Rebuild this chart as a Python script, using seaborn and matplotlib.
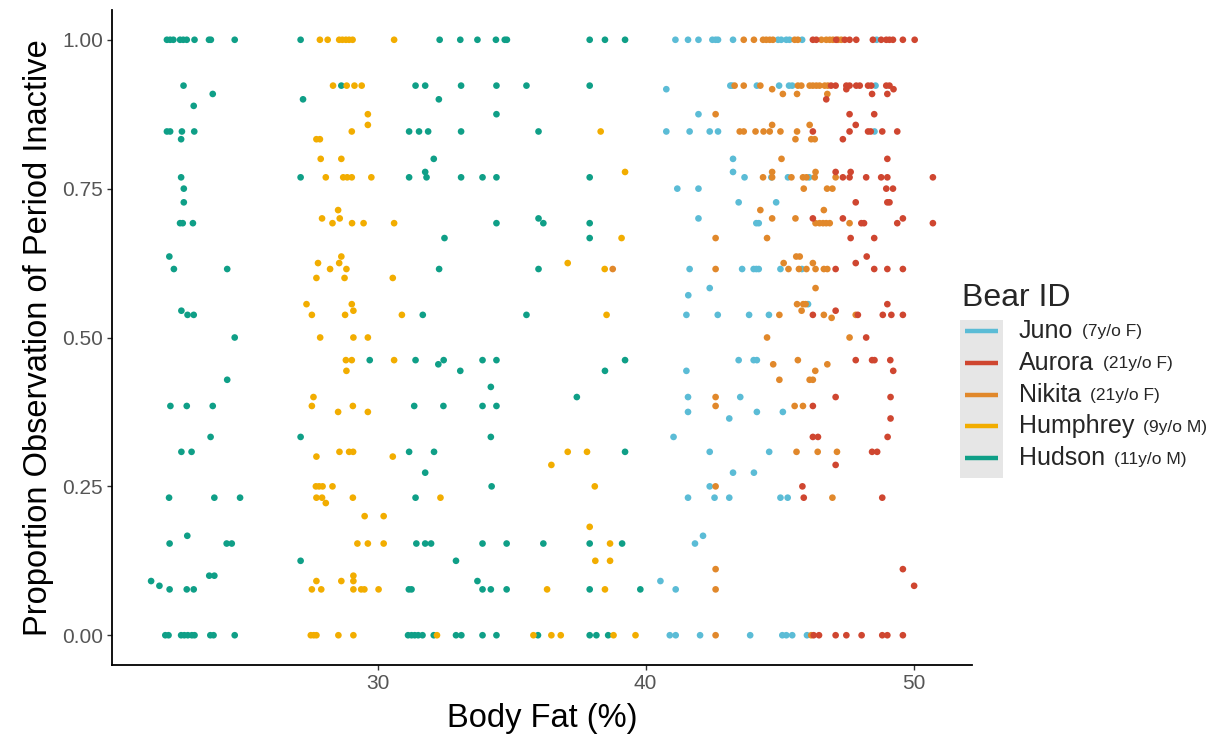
import matplotlib
matplotlib.use("Agg")
import matplotlib.pyplot as plt
from matplotlib.patches import Rectangle
from matplotlib.lines import Line2D
import pandas as pd
import seaborn as sns

# Bears, their notes and colours (legend order)
bears = ["Juno", "Aurora", "Nikita", "Humphrey", "Hudson"]
bear_notes = ["(7y/o F)", "(21y/o F)", "(21y/o F)", "(9y/o M)", "(11y/o M)"]
bear_colors = ["#5BBCD6", "#CF4630", "#E1882B", "#F2AD00", "#0F9F87"]

# Observations: (body fat %, proportion of observation period inactive)
hudson_obs = [
    (22.13, 1), (22.25, 1), (22.37, 1), (22.62, 1), (22.74, 1), (22.87, 1), (23.16, 1),
    (23.70, 1), (23.77, 1), (24.66, 1), (22.75, 0.923), (23.84, 0.909), (23.13, 0.889),
    (22.13, 0.846), (22.25, 0.846), (22.69, 0.846), (23.15, 0.846), (22.66, 0.833),
    (22.66, 0.769), (22.76, 0.75), (22.76, 0.727), (22.62, 0.692), (22.72, 0.692),
    (23.10, 0.692), (22.22, 0.636), (22.39, 0.615), (24.38, 0.615), (22.67, 0.545),
    (22.90, 0.538), (23.13, 0.538), (24.66, 0.5), (24.38, 0.429), (22.26, 0.385),
    (22.87, 0.385), (23.84, 0.385), (23.76, 0.333), (22.67, 0.308), (23.05, 0.308),
    (22.21, 0.231), (23.90, 0.231), (24.86, 0.231), (22.89, 0.167), (22.23, 0.154),
    (24.36, 0.154), (24.55, 0.154), (23.71, 0.1), (23.90, 0.1), (21.54, 0.091),
    (21.85, 0.083), (22.23, 0.077), (22.87, 0.077), (23.13, 0.077), (22.07, 0),
    (22.19, 0), (22.66, 0), (22.78, 0), (22.91, 0), (23.06, 0), (23.16, 0), (23.75, 0),
    (23.87, 0), (24.66, 0),
    (27.12, 1), (32.31, 1), (28.64, 0.923), (31.41, 0.923), (31.77, 0.923), (27.21, 0.9),
    (32.28, 0.9), (31.17, 0.846), (31.54, 0.846), (31.88, 0.846), (32.09, 0.8),
    (31.77, 0.778), (27.12, 0.769), (31.17, 0.769), (31.82, 0.769), (32.49, 0.667),
    (32.29, 0.615), (31.68, 0.538), (29.70, 0.462), (31.41, 0.462), (32.46, 0.462),
    (32.26, 0.455), (33.08, 0.444), (31.36, 0.385), (32.45, 0.385), (27.12, 0.333),
    (31.17, 0.308), (32.10, 0.308), (31.77, 0.273), (31.41, 0.231), (31.44, 0.154),
    (31.77, 0.154), (31.99, 0.154), (27.12, 0.125), (32.92, 0.125), (31.16, 0.077),
    (31.26, 0.077), (31.13, 0), (31.26, 0), (31.38, 0), (31.51, 0), (31.67, 0),
    (32.09, 0), (32.92, 0),
    (33.08, 1), (33.72, 1), (34.41, 1), (34.74, 1), (34.82, 1), (37.91, 1), (38.48, 1),
    (39.23, 1), (33.11, 0.923), (34.43, 0.923), (35.55, 0.923), (37.91, 0.923),
    (34.43, 0.875), (33.11, 0.846), (36.00, 0.846), (33.11, 0.769), (33.91, 0.769),
    (34.43, 0.769), (37.91, 0.769), (34.43, 0.692), (36.18, 0.692), (37.91, 0.692),
    (36.00, 0.7), (37.91, 0.667), (36.00, 0.615), (35.55, 0.538), (33.91, 0.462),
    (34.43, 0.462), (39.23, 0.462), (38.48, 0.444), (34.22, 0.417), (37.43, 0.4),
    (33.91, 0.385), (34.43, 0.385), (34.22, 0.333), (39.23, 0.308), (34.25, 0.25),
    (33.91, 0.154), (34.81, 0.154), (36.18, 0.154), (37.91, 0.154), (39.12, 0.154),
    (33.72, 0.091), (33.91, 0.077), (34.22, 0.077), (34.81, 0.077), (37.91, 0.077),
    (39.80, 0.077), (33.12, 0), (33.91, 0), (34.43, 0), (35.98, 0), (37.91, 0),
    (38.16, 0), (38.60, 0),
]

humphrey_obs = [
    (27.84, 1), (28.13, 1), (28.56, 1), (28.68, 1), (28.81, 1), (28.93, 1), (29.06, 1),
    (30.61, 1), (28.33, 0.923), (28.84, 0.923), (29.13, 0.923), (29.40, 0.923),
    (29.63, 0.875), (29.63, 0.857), (29.03, 0.846), (27.71, 0.833), (27.84, 0.833),
    (27.87, 0.8), (28.64, 0.8), (28.06, 0.769), (28.71, 0.769), (28.86, 0.769),
    (29.03, 0.769), (29.76, 0.769), (28.52, 0.714), (27.92, 0.7), (28.58, 0.7),
    (28.31, 0.692), (29.04, 0.692), (29.47, 0.692), (30.61, 0.692), (28.64, 0.636),
    (27.77, 0.625), (28.56, 0.625), (28.22, 0.615), (28.83, 0.615), (27.71, 0.6),
    (28.76, 0.6), (30.56, 0.6), (27.34, 0.556), (29.03, 0.556), (29.09, 0.545),
    (27.54, 0.538), (28.78, 0.538), (30.90, 0.538), (27.85, 0.5), (29.09, 0.5),
    (29.63, 0.5), (28.81, 0.462), (29.03, 0.462), (30.61, 0.462), (28.83, 0.444),
    (27.60, 0.4), (27.54, 0.385), (29.07, 0.385), (28.52, 0.375), (29.63, 0.375),
    (28.57, 0.308), (28.93, 0.308), (29.08, 0.308), (27.71, 0.3), (30.56, 0.3),
    (27.69, 0.25), (27.81, 0.25), (27.94, 0.25), (28.31, 0.25), (27.71, 0.231),
    (27.92, 0.231), (29.07, 0.231), (32.34, 0.231), (28.06, 0.222), (29.51, 0.2),
    (30.22, 0.2), (29.24, 0.154), (29.63, 0.154), (30.22, 0.154), (29.09, 0.1),
    (27.71, 0.091), (28.64, 0.091), (29.09, 0.091), (27.54, 0.077), (27.89, 0.077),
    (29.09, 0.077), (29.38, 0.077), (29.50, 0.077), (30.03, 0.077), (27.50, 0),
    (27.61, 0), (27.71, 0), (28.53, 0), (29.09, 0), (32.21, 0),
    (38.32, 0.846), (39.23, 0.778), (39.10, 0.667), (37.09, 0.625), (38.47, 0.615),
    (38.54, 0.538), (37.09, 0.308), (37.81, 0.308), (36.48, 0.286), (38.10, 0.25),
    (37.91, 0.182), (38.67, 0.154), (38.12, 0.125), (38.67, 0.125), (36.32, 0.077),
    (38.48, 0.077), (35.81, 0), (36.48, 0), (36.83, 0), (38.80, 0), (39.62, 0),
]

juno_obs = [
    (41.11, 1), (41.58, 1), (41.97, 1), (42.49, 1), (42.61, 1), (42.70, 1), (43.26, 1),
    (44.94, 1), (45.06, 1), (45.25, 1), (45.37, 1), (45.84, 1), (48.62, 1),
    (40.77, 0.917), (43.16, 0.923), (43.23, 0.923), (44.15, 0.923), (44.98, 0.923),
    (45.35, 0.923), (45.47, 0.923), (48.58, 0.923), (41.97, 0.875), (40.77, 0.846),
    (41.64, 0.846), (42.39, 0.846), (42.70, 0.846), (48.54, 0.846), (43.26, 0.8),
    (43.26, 0.778), (43.69, 0.769), (44.69, 0.769), (45.31, 0.769), (46.10, 0.769),
    (41.18, 0.75), (41.97, 0.75), (43.47, 0.727), (44.87, 0.727), (41.97, 0.7),
    (44.13, 0.692), (44.22, 0.692), (41.64, 0.615), (43.60, 0.615), (44.03, 0.615),
    (44.13, 0.615), (44.22, 0.615), (45.03, 0.615), (45.83, 0.615), (42.39, 0.583),
    (41.59, 0.571), (46.06, 0.556), (41.52, 0.538), (42.69, 0.538), (43.86, 0.538),
    (44.60, 0.538), (43.47, 0.462), (44.03, 0.462), (44.15, 0.462), (41.52, 0.444),
    (41.58, 0.4), (43.53, 0.4), (41.58, 0.375), (44.15, 0.375), (45.12, 0.375),
    (43.12, 0.364), (41.04, 0.333), (42.39, 0.308), (44.61, 0.308), (43.26, 0.273),
    (44.04, 0.273), (42.39, 0.25), (41.58, 0.231), (42.57, 0.231), (43.12, 0.231),
    (45.03, 0.231), (45.30, 0.231), (42.14, 0.167), (41.84, 0.154), (40.55, 0.091),
    (41.12, 0.077), (40.90, 0), (41.12, 0), (42.03, 0), (43.90, 0), (45.10, 0),
    (45.25, 0), (45.47, 0), (46.02, 0),
]

nikita_obs = [
    (38.77, 0.615), (43.66, 1), (44.04, 1), (44.38, 1), (44.50, 1), (44.63, 1),
    (44.75, 1), (45.56, 1), (45.68, 1), (43.32, 0.923), (43.66, 0.923), (44.28, 0.923),
    (45.68, 0.923), (45.81, 0.923), (44.72, 0.917), (45.12, 0.909), (45.65, 0.909),
    (42.61, 0.875), (44.72, 0.857), (43.51, 0.846), (43.66, 0.846), (44.10, 0.846),
    (44.40, 0.846), (44.63, 0.846), (45.03, 0.846), (45.65, 0.846), (45.59, 0.833),
    (45.07, 0.8), (44.72, 0.778), (44.38, 0.769), (44.72, 0.769), (45.44, 0.769),
    (45.87, 0.769), (45.90, 0.75), (44.28, 0.714), (44.72, 0.7), (45.59, 0.7),
    (42.61, 0.667), (44.53, 0.667), (45.62, 0.636), (45.75, 0.636), (45.15, 0.625),
    (42.61, 0.615), (45.33, 0.615), (45.72, 0.615), (45.65, 0.556), (45.88, 0.556),
    (45.97, 0.556), (45.82, 0.545), (44.99, 0.538), (44.53, 0.5), (45.68, 0.462),
    (44.76, 0.455), (44.99, 0.429), (42.61, 0.4), (42.61, 0.385), (45.56, 0.385),
    (45.87, 0.385), (45.63, 0.308), (42.61, 0.25), (42.61, 0.111), (42.61, 0.077),
    (42.61, 0),
    (46.56, 1), (46.74, 1), (46.87, 1), (46.99, 1), (47.18, 1), (47.30, 1),
    (46.12, 0.923), (46.24, 0.923), (46.37, 0.923), (46.49, 0.923), (46.68, 0.923),
    (46.80, 0.923), (46.78, 0.909), (46.12, 0.857), (46.18, 0.833), (46.31, 0.833),
    (46.34, 0.778), (46.00, 0.769), (46.31, 0.769), (47.09, 0.769), (46.77, 0.75),
    (46.97, 0.75), (46.65, 0.714), (46.34, 0.692), (46.49, 0.692), (46.62, 0.692),
    (46.74, 0.692), (46.87, 0.692), (47.61, 0.692), (46.24, 0.625), (46.00, 0.615),
    (46.34, 0.615), (46.65, 0.615), (46.78, 0.615), (46.34, 0.583), (46.65, 0.538),
    (46.94, 0.533), (47.84, 0.538), (47.61, 0.5), (46.78, 0.455), (46.33, 0.444),
    (46.12, 0.429), (46.24, 0.429), (46.42, 0.308), (47.14, 0.308), (46.97, 0.231),
    (46.18, 0),
]

aurora_obs = [
    (45.85, 0.25), (45.90, 0.231),
    (46.24, 1), (46.37, 1), (47.11, 1), (47.43, 1), (47.61, 1), (47.86, 1), (48.48, 1),
    (48.79, 1), (48.98, 1), (49.10, 1), (49.23, 1), (49.60, 1), (50.04, 1),
    (46.92, 0.923), (47.09, 0.923), (47.49, 0.923), (47.61, 0.923), (47.86, 0.923),
    (47.99, 0.923), (48.30, 0.923), (48.42, 0.923), (48.98, 0.923), (49.10, 0.923),
    (47.49, 0.917), (49.25, 0.917), (48.45, 0.909), (49.02, 0.909), (46.74, 0.9),
    (47.61, 0.875), (48.53, 0.875), (47.84, 0.857), (46.24, 0.846), (47.61, 0.846),
    (48.30, 0.846), (48.40, 0.846), (48.83, 0.846), (49.39, 0.846), (47.36, 0.833),
    (49.02, 0.8), (47.09, 0.778), (47.65, 0.778), (47.36, 0.769), (47.61, 0.769),
    (48.23, 0.769), (48.79, 0.769), (49.02, 0.769), (50.72, 0.769), (48.98, 0.75),
    (49.23, 0.75), (47.84, 0.727), (49.02, 0.727), (49.10, 0.727), (46.24, 0.7),
    (47.36, 0.7), (49.60, 0.7), (48.05, 0.692), (48.15, 0.692), (49.39, 0.692),
    (50.72, 0.692), (47.65, 0.667), (48.53, 0.667), (48.25, 0.636), (47.84, 0.625),
    (47.09, 0.615), (48.53, 0.615), (49.02, 0.615), (49.60, 0.615), (49.02, 0.556),
    (47.09, 0.545), (46.24, 0.538), (47.92, 0.538), (48.85, 0.538), (49.17, 0.538),
    (49.60, 0.538), (48.23, 0.5), (47.84, 0.462), (48.45, 0.462), (48.54, 0.462),
    (49.13, 0.462), (49.24, 0.444), (47.09, 0.4), (49.14, 0.4), (46.24, 0.385),
    (49.14, 0.364), (46.24, 0.333), (46.43, 0.333), (49.03, 0.333), (48.45, 0.308),
    (48.64, 0.308), (47.09, 0.286), (48.83, 0.231), (49.60, 0.111), (50.02, 0.083),
    (46.27, 0), (46.47, 0), (47.09, 0), (47.49, 0), (48.06, 0), (48.83, 0), (49.02, 0),
    (49.60, 0),
]

x_ticks = [30, 40, 50]
y_ticks = [0.0, 0.25, 0.50, 0.75, 1.00]
y_tick_labels = ["0.00", "0.25", "0.50", "0.75", "1.00"]

# Long-format table, rows ordered by drawing layer
layers = [("Hudson", hudson_obs), ("Humphrey", humphrey_obs), ("Juno", juno_obs),
          ("Nikita", nikita_obs), ("Aurora", aurora_obs)]
rows = []
for name, obs in layers:
    for fat, prop in obs:
        rows.append({"bear": name, "fat": fat, "prop": prop})
df = pd.DataFrame(rows)

sns.set_style("white")
plt.rcParams["font.family"] = ["Liberation Sans", "DejaVu Sans"]

W, H = 1214, 737
fig = plt.figure(figsize=(W / 100, H / 100), dpi=100)
ax = fig.add_axes([112 / W, 1 - 665 / H, (972 - 112) / W, (665 - 10) / H])

palette = dict(zip(bears, bear_colors))
sns.scatterplot(data=df, x="fat", y="prop", hue="bear", palette=palette,
                s=23, linewidth=0, legend=False, ax=ax)

ax.set_xlim(20.08, 52.18)
ax.set_ylim(-0.05, 1.05)
ax.set_xticks(x_ticks)
ax.set_xticklabels([str(t) for t in x_ticks])
ax.set_yticks(y_ticks)
ax.set_yticklabels(y_tick_labels)
for side in ["top", "right"]:
    ax.spines[side].set_visible(False)
for side in ["left", "bottom"]:
    ax.spines[side].set_color("black")
    ax.spines[side].set_linewidth(1.3)
ax.tick_params(axis="both", length=3.5, width=1.0, color="#333333",
               labelcolor="#555555", labelsize=15, pad=3, left=True, bottom=True)
ax.set_xlabel("Body Fat (%)", fontsize=23.5, color="black", labelpad=7)
ax.set_ylabel("Proportion Observation of Period Inactive", fontsize=23.5,
              color="black", labelpad=6)

# Legend drawn in figure pixels
def fx(px):
    return px / W

def fy(py):
    return 1 - py / H

fig.text(fx(962), fy(298), "Bear ID", fontsize=23, ha="left", va="center")
fig.patches.append(Rectangle((fx(960), fy(478)), 43 / W, 158 / H,
                             transform=fig.transFigure, facecolor="#E6E6E6",
                             edgecolor="none", zorder=0))
name_texts = []
for i, (name, col) in enumerate(zip(bears, bear_colors)):
    yk = 331 + 31.8 * i
    fig.lines.append(Line2D([fx(965), fx(998)], [fy(yk), fy(yk)],
                            transform=fig.transFigure, color=col, linewidth=3.2,
                            solid_capstyle="butt"))
    t = fig.text(fx(1019), fy(yk), name, fontsize=18, ha="left", va="center")
    name_texts.append(t)

fig.canvas.draw()
renderer = fig.canvas.get_renderer()
for i, (t, note) in enumerate(zip(name_texts, bear_notes)):
    bb = t.get_window_extent(renderer=renderer)
    yk = 331 + 31.8 * i
    fig.text((bb.x1 + 9) / W, fy(yk + 1), note, fontsize=12.5, ha="left", va="center")

fig.savefig("out.png", dpi=100)
